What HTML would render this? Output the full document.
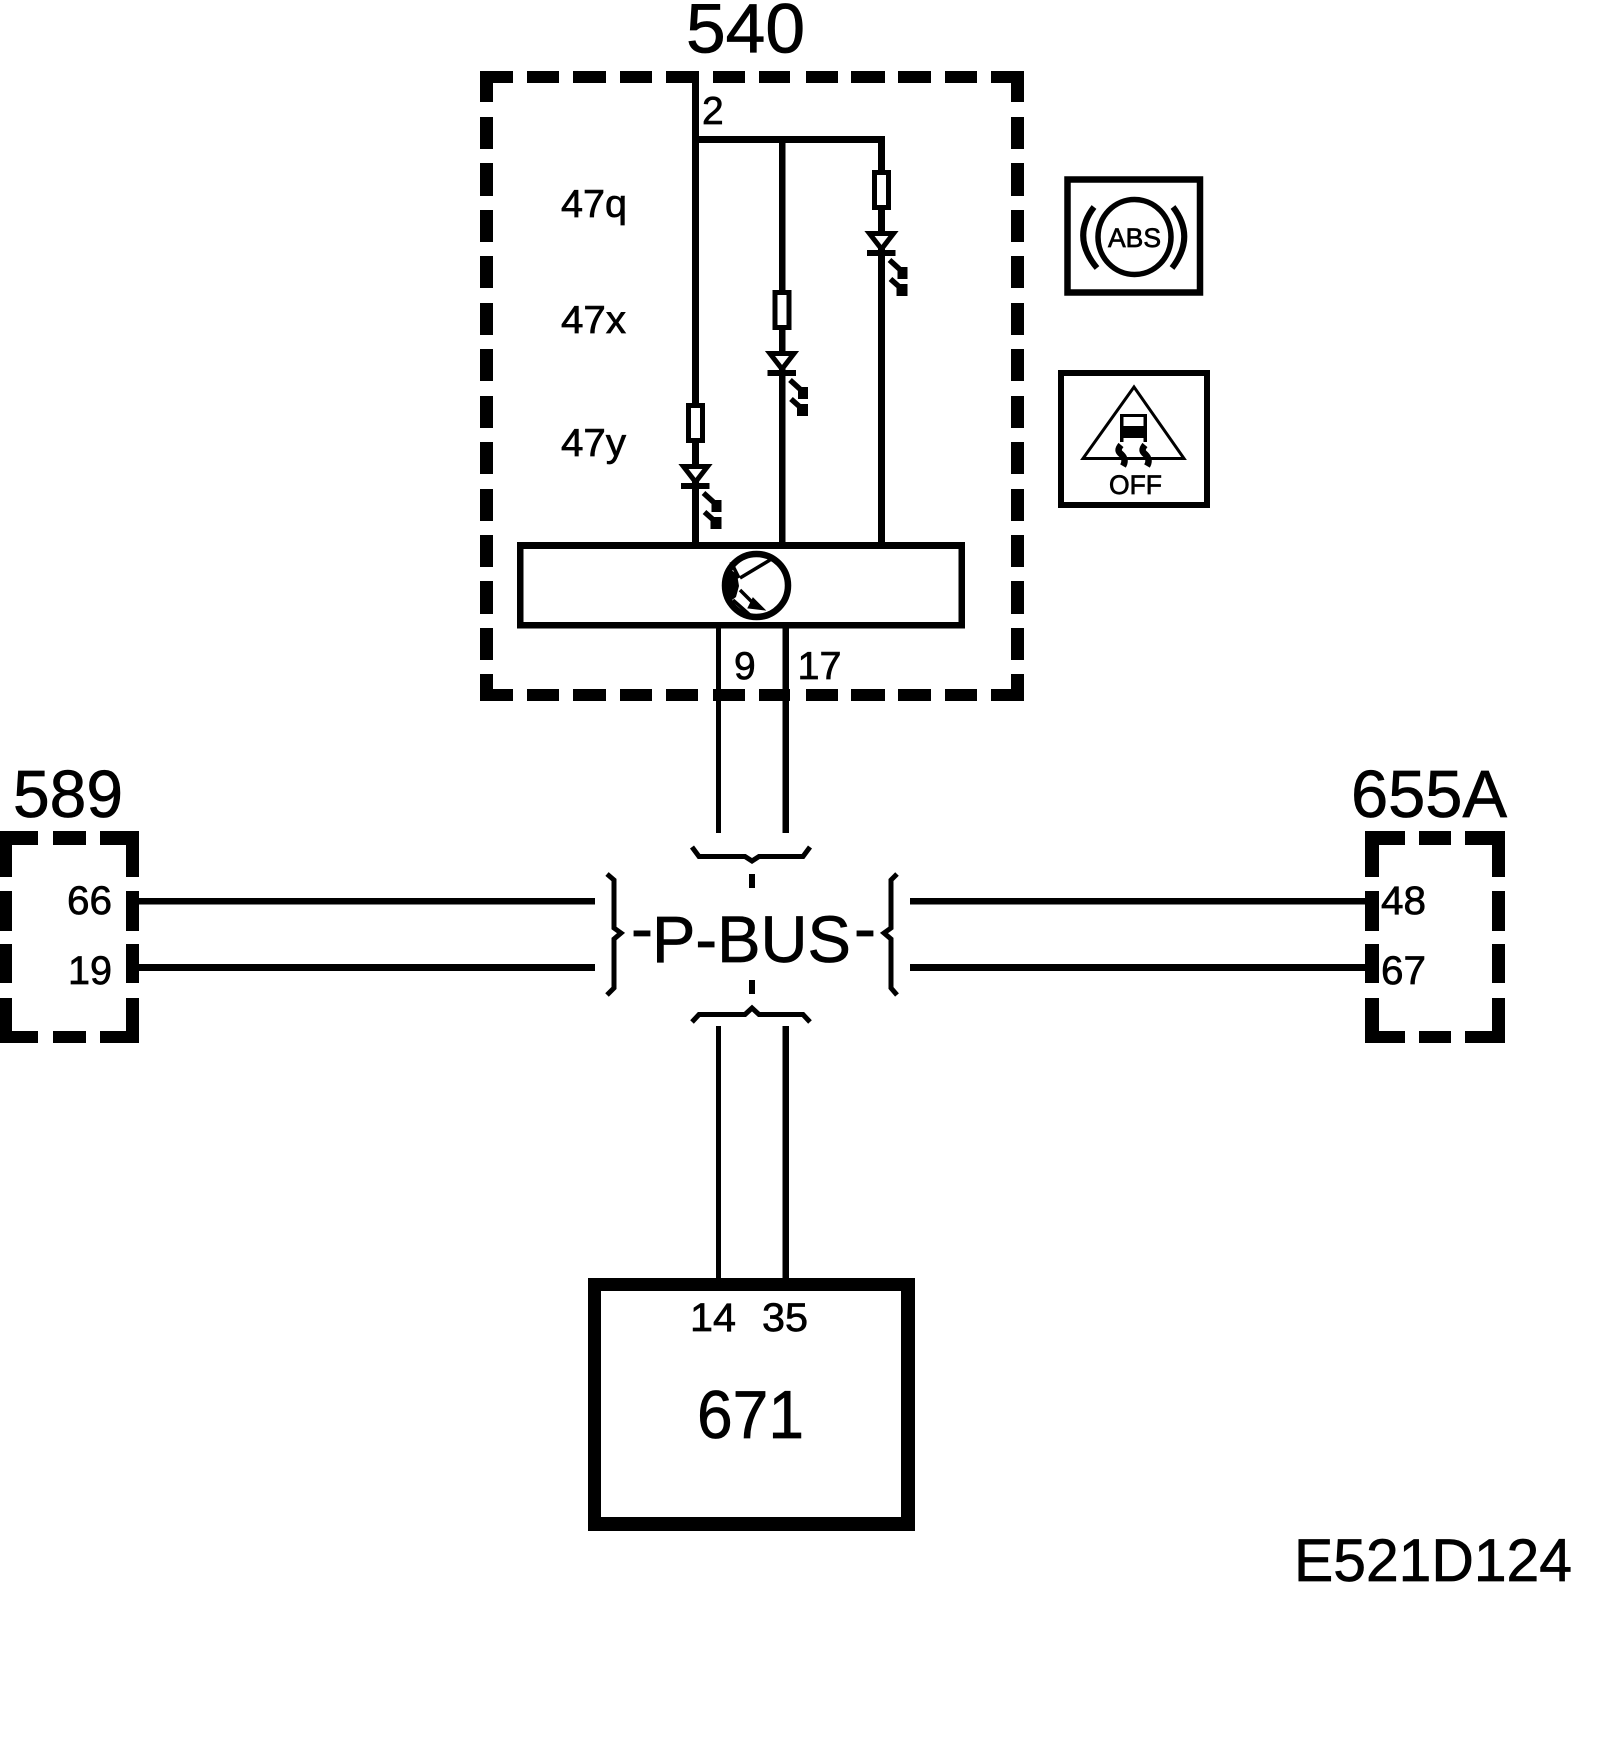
<!DOCTYPE html>
<html><head><meta charset="utf-8"><style>html,body{margin:0;padding:0;background:#fff}svg{display:block}text{font-family:"Liberation Sans",sans-serif;fill:#000;stroke:#000;stroke-width:.7px}</style></head><body>
<svg xmlns="http://www.w3.org/2000/svg" width="1600" height="1748" viewBox="0 0 1600 1748">
<defs>
<g id="led">
<rect x="-7" y="2.5" width="14" height="35" fill="#fff" stroke="#000" stroke-width="5"/>
<path d="M-12,63.5H12L0,79Z" fill="#fff" stroke="#000" stroke-width="5"/>
<rect x="-14.5" y="80" width="28.5" height="6"/>
<path d="M8,90L19,100M9,109L18,117" stroke="#000" stroke-width="5.5" fill="none"/>
<rect x="16" y="97" width="10" height="12"/><rect x="15" y="114" width="11" height="12"/>
</g>
</defs>
<!-- 540 dashed box -->
<g shape-rendering="crispEdges">
<path d="M480 71h33v12h-33zM527 71h32v12h-32zM573 71h33v12h-33zM620 71h32v12h-32zM666 71h32v12h-32zM713 71h32v12h-32zM759 71h31v12h-31zM806 71h32v12h-32zM851 71h34v12h-34zM898 71h33v12h-33zM945 71h32v12h-32zM991 71h33v12h-33z
M480 689h33v12h-33zM527 689h32v12h-32zM573 689h33v12h-33zM620 689h32v12h-32zM666 689h32v12h-32zM713 689h32v12h-32zM759 689h31v12h-31zM806 689h32v12h-32zM851 689h34v12h-34zM898 689h33v12h-33zM945 689h32v12h-32zM991 689h33v12h-33z"/>
<path id="s1" d="M480 71h13v31h-13zM480 117h13v32h-13zM480 163h13v33h-13zM480 210h13v32h-13zM480 256h13v32h-13zM480 303h13v32h-13zM480 349h13v32h-13zM480 396h13v32h-13zM480 442h13v32h-13zM480 489h13v32h-13zM480 535h13v32h-13zM480 581h13v33h-13zM480 628h13v32h-13zM480 674h13v27h-13z
M1011 71h13v31h-13zM1011 117h13v32h-13zM1011 163h13v33h-13zM1011 210h13v32h-13zM1011 256h13v32h-13zM1011 303h13v32h-13zM1011 349h13v32h-13zM1011 396h13v32h-13zM1011 442h13v32h-13zM1011 489h13v32h-13zM1011 535h13v32h-13zM1011 581h13v33h-13zM1011 628h13v32h-13zM1011 674h13v27h-13z"/>
<!-- wires in 540 -->
<rect x="692" y="71" width="7" height="475"/>
<rect x="692" y="136" width="193" height="7"/>
<rect x="779" y="136" width="6.5" height="410"/>
<rect x="878" y="136" width="7" height="410"/>
<rect x="517" y="542" width="448" height="7"/>
<rect x="517" y="622" width="448" height="6.5"/>
<rect x="517" y="542" width="6.5" height="86"/>
<rect x="958.5" y="542" width="6.5" height="86"/>
<!-- bus verticals -->
<rect x="716" y="628" width="5" height="205"/>
<rect x="782.5" y="628" width="6.5" height="205"/>
<rect x="716" y="1026" width="5" height="252"/>
<rect x="782.5" y="1026" width="6.5" height="252"/>
<!-- center dashes -->
<rect x="749" y="874" width="6" height="14"/>
<rect x="749" y="980" width="6" height="14"/>
<!-- side lines -->
<rect x="139" y="898" width="456" height="6.5"/>
<rect x="139" y="964" width="456" height="7"/>
<rect x="910" y="898" width="456" height="6.5"/>
<rect x="910" y="964" width="456" height="7"/>
<!-- 589 box -->
<path d="M0 831h38v14h-38zM53 831h33v14h-33zM100 831h39v14h-39zM0 1031h38v12h-38zM53 1031h33v12h-33zM100 1031h39v12h-39z
M0 831h12v46h-12zM0 891h12v40h-12zM0 944h12v39h-12zM0 998h12v45h-12z
M126 831h13v46h-13zM126 891h13v40h-13zM126 944h13v39h-13zM126 998h13v45h-13z"/>
<!-- 655A box -->
<path d="M1365 831h40v14h-40zM1419 831h32v14h-32zM1465 831h40v14h-40zM1365 1031h40v12h-40zM1419 1031h32v12h-32zM1465 1031h40v12h-40z
M1365 831h14v46h-14zM1365 891h14v40h-14zM1365 944h14v39h-14zM1365 998h14v45h-14z
M1492 831h13v46h-13zM1492 891h13v40h-13zM1492 944h13v39h-13zM1492 998h13v45h-13z"/>
<!-- 671 -->
<path fill-rule="evenodd" d="M588 1278H915V1531H588ZM601 1291V1517H901V1291Z"/>
</g>
<!-- LEDs -->
<use href="#led" transform="translate(881.500,170)"/>
<use href="#led" transform="translate(782,290)"/>
<use href="#led" transform="translate(695.500,403)"/>
<!-- transistor -->
<circle cx="756.500" cy="585.500" r="31.500" fill="#fff" stroke="#000" stroke-width="6.500"/>
<path d="M728 568L737 574L739 586L736 597L728 603Z"/>
<path d="M740 578L770 560M740 590L758 608M733 600L750 615M731 562L739 578" stroke="#000" stroke-width="3.500" fill="none"/>
<path d="M753 598L748 608L765 610Z" stroke="#000" stroke-width="1"/>
<!-- braces -->
<g fill="none" stroke="#000" stroke-width="5" stroke-linejoin="miter">
<path d="M607 874L614 880V928L621 933L614 939V988L607 995"/>
<path d="M897 874L891 880V928L884 933L891 939V988L897 995"/>
<path d="M692 847L699 856.500H745L752 861L759 856.500H803L810 847"/>
<path d="M692 1022L699 1014.500H745L752 1008L759 1014.500H803L810 1022"/>
</g>
<!-- ABS icon -->
<rect x="1067.500" y="179.500" width="132.500" height="113" fill="#fff" stroke="#000" stroke-width="6.500"/>
<ellipse cx="1134.500" cy="237" rx="36.500" ry="37.500" fill="none" stroke="#000" stroke-width="5.500"/>
<path d="M1094 207Q1071 237 1097 268M1173 207Q1196 237 1172 268" fill="none" stroke="#000" stroke-width="6"/>
<text x="1108" y="247" font-size="27" textLength="53" lengthAdjust="spacingAndGlyphs">ABS</text>
<!-- OFF icon -->
<rect x="1061" y="373" width="146" height="132" fill="#fff" stroke="#000" stroke-width="6"/>
<path d="M1134 387L1184 458.500H1083Z" fill="none" stroke="#000" stroke-width="3"/>
<path d="M1120 414h27v28h-3.500v-4h-20v4h-3.500zM1123.500 417v9h20v-9z" fill-rule="evenodd" shape-rendering="crispEdges"/>
<path d="M1121 445c-5 6 -1 8 1 10s4 6 1 11M1145 445c-5 6 -1 8 1 10s4 6 1 11" fill="none" stroke="#000" stroke-width="6.500"/>
<text x="1109" y="494" font-size="27" textLength="53" lengthAdjust="spacingAndGlyphs">OFF</text>
<!-- labels -->
<text x="686" y="52.500" font-size="70" textLength="119" lengthAdjust="spacingAndGlyphs">540</text>
<text x="702" y="124" font-size="39">2</text>
<text x="561" y="217" font-size="39" textLength="66" lengthAdjust="spacingAndGlyphs">47q</text>
<text x="561" y="333" font-size="39" textLength="65" lengthAdjust="spacingAndGlyphs">47x</text>
<text x="561" y="456" font-size="39" textLength="65" lengthAdjust="spacingAndGlyphs">47y</text>
<text x="734" y="679" font-size="39">9</text>
<text x="797.500" y="679" font-size="39" textLength="44" lengthAdjust="spacingAndGlyphs">17</text>
<text x="13" y="817" font-size="67" textLength="110" lengthAdjust="spacingAndGlyphs">589</text>
<text x="1351" y="817" font-size="67" textLength="156" lengthAdjust="spacingAndGlyphs">655A</text>
<text x="67" y="914" font-size="40" textLength="45" lengthAdjust="spacingAndGlyphs">66</text>
<text x="68" y="984" font-size="40" textLength="44" lengthAdjust="spacingAndGlyphs">19</text>
<text x="1381" y="914" font-size="40" textLength="45" lengthAdjust="spacingAndGlyphs">48</text>
<text x="1381" y="984" font-size="40" textLength="45" lengthAdjust="spacingAndGlyphs">67</text>
<text x="631" y="951" font-size="66">-</text>
<text x="652" y="962" font-size="66" textLength="199" lengthAdjust="spacingAndGlyphs">P-BUS</text>
<text x="854" y="951" font-size="66">-</text>
<text x="690" y="1331" font-size="40" textLength="46" lengthAdjust="spacingAndGlyphs">14</text>
<text x="762" y="1331" font-size="40" textLength="46" lengthAdjust="spacingAndGlyphs">35</text>
<text x="697" y="1438" font-size="68" textLength="107" lengthAdjust="spacingAndGlyphs">671</text>
<text x="1294" y="1581" font-size="60" textLength="278" lengthAdjust="spacingAndGlyphs">E521D124</text>
</svg>
</body></html>
